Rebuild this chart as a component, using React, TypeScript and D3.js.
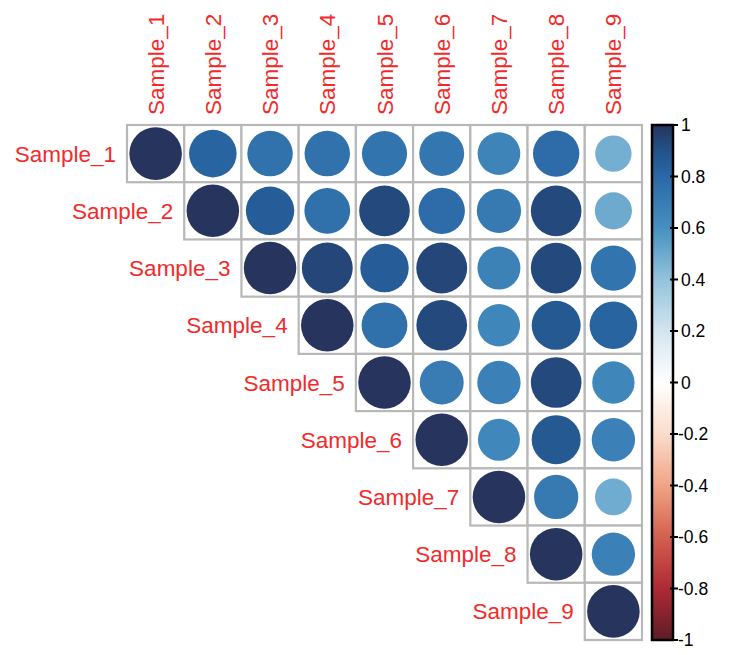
import React from 'react';
import * as d3 from 'd3';

// sample names (rows and columns)
const samples = [
  'Sample_1', 'Sample_2', 'Sample_3', 'Sample_4', 'Sample_5',
  'Sample_6', 'Sample_7', 'Sample_8', 'Sample_9',
];

// upper triangle, each row starts at the diagonal
const row1 = [1, 0.82, 0.75, 0.75, 0.74, 0.73, 0.66, 0.78, 0.48];
const row2 = [1, 0.85, 0.76, 0.93, 0.78, 0.71, 0.93, 0.5];
const row3 = [1, 0.94, 0.85, 0.94, 0.67, 0.93, 0.74];
const row4 = [1, 0.76, 0.93, 0.65, 0.87, 0.82];
const row5 = [1, 0.7, 0.68, 0.93, 0.65];
const row6 = [1, 0.64, 0.87, 0.68];
const row7 = [1, 0.71, 0.49];
const row8 = [1, 0.68];
const row9 = [1];
const rows = [row1, row2, row3, row4, row5, row6, row7, row8, row9];

// colour legend
const legendTicks = [1, 0.8, 0.6, 0.4, 0.2, 0, -0.2, -0.4, -0.6, -0.8, -1];
const legendLabels = ['1', '0.8', '0.6', '0.4', '0.2', '0', '-0.2', '-0.4', '-0.6', '-0.8', '-1'];
const paletteValues = [-1, -0.8, -0.6, -0.4, -0.2, 0, 0.2, 0.4, 0.6, 0.8, 0.9, 1];
const paletteColors = [
  '#5e1c27', '#ae2a35', '#d3604f', '#f0a486', '#fbdccb', '#ffffff',
  '#d3e5ef', '#93c3dc', '#4690c0', '#2a68a6', '#22528a', '#26345e',
];

const W = 731;
const H = 655;
const grid = { left: 127, right: 642, top: 125, bottom: 640 };
const bar = { x: 652, w: 21 };
const labelColor = '#f22a2a';
const font = '"Liberation Sans", Arial, sans-serif';

const App = () => {
  const x = d3.scaleBand<string>().domain(samples).range([grid.left, grid.right]);
  const y = d3.scaleBand<string>().domain(samples).range([grid.top, grid.bottom]);
  const color = d3.scaleLinear<string>().domain(paletteValues).range(paletteColors);
  const legendY = d3.scaleLinear().domain([-1, 1]).range([grid.bottom, grid.top]);
  const maxR = 0.9 * x.bandwidth() / 2 * 1.02;

  const cells: { r: string; c: string; v: number }[] = [];
  rows.forEach((vals, i) => {
    vals.forEach((v, k) => {
      cells.push({ r: samples[i], c: samples[i + k], v });
    });
  });

  return (
    <svg width={W} height={H} style={{ position: 'absolute', left: 0, top: 0, background: '#fff' }}>
      <defs>
        <linearGradient id="corrGrad" x1="0" y1="1" x2="0" y2="0">
          {paletteValues.map((v, i) => (
            <stop key={i} offset={(v + 1) / 2} stopColor={paletteColors[i]} />
          ))}
        </linearGradient>
      </defs>

      {/* cells */}
      {cells.map((d, i) => (
        <rect
          key={'g' + i}
          x={x(d.c)}
          y={y(d.r)}
          width={x.bandwidth()}
          height={y.bandwidth()}
          fill="#fff"
          stroke="#b8b8b8"
          strokeWidth={2.2}
        />
      ))}
      {cells.map((d, i) => (
        <circle
          key={'c' + i}
          cx={(x(d.c) as number) + x.bandwidth() / 2}
          cy={(y(d.r) as number) + y.bandwidth() / 2}
          r={maxR * Math.sqrt(Math.abs(d.v))}
          fill={color(d.v)}
        />
      ))}

      {/* row labels */}
      {samples.map((s) => (
        <text
          key={'rl' + s}
          x={(x(s) as number) - 11}
          y={(y(s) as number) + y.bandwidth() / 2 + 8}
          textAnchor="end"
          fontFamily={font}
          fontSize={22.5}
          fill={labelColor}
        >
          {s}
        </text>
      ))}

      {/* column labels */}
      {samples.map((s) => {
        const cx = (x(s) as number) + x.bandwidth() / 2 + 8;
        const cy = grid.top - 10;
        return (
          <text
            key={'cl' + s}
            transform={`translate(${cx},${cy}) rotate(-90)`}
            textAnchor="start"
            fontFamily={font}
            fontSize={22.5}
            fill={labelColor}
          >
            {s}
          </text>
        );
      })}

      {/* colour bar */}
      <rect
        x={bar.x}
        y={grid.top}
        width={bar.w}
        height={grid.bottom - grid.top}
        fill="url(#corrGrad)"
        stroke="#000"
        strokeWidth={2.5}
      />
      {legendTicks.map((t, i) => (
        <g key={'t' + i}>
          <line
            x1={bar.x + bar.w - 3}
            x2={bar.x + bar.w + 5}
            y1={legendY(t)}
            y2={legendY(t)}
            stroke="#000"
            strokeWidth={2}
          />
          <text
            x={bar.x + bar.w + (t < 0 ? 5 : 8)}
            y={legendY(t) + 6}
            fontFamily={font}
            fontSize={17.5}
            fill="#000"
          >
            {legendLabels[i]}
          </text>
        </g>
      ))}
    </svg>
  );
};

export default App;
